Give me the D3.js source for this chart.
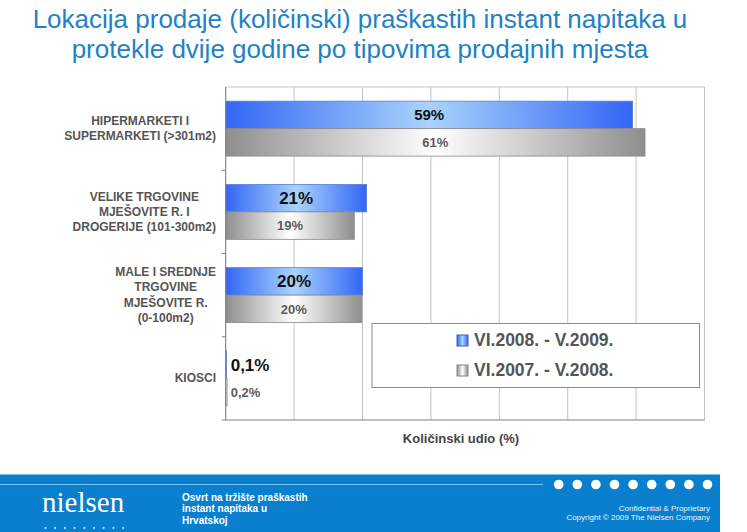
<!DOCTYPE html>
<html>
<head>
<meta charset="utf-8">
<script src="https://cdn.jsdelivr.net/npm/d3@7"></script>
<style>
  body { margin: 0; background: #fff; }
  svg { display: block; font-family: Arial, "Liberation Sans", sans-serif; }
</style>
</head>
<body>
<svg id="chart" width="747" height="532"></svg>
<script>
// ---- data ---------------------------------------------------------------
const titleLines = [
  "Lokacija prodaje (količinski) praškastih instant napitaka u",
  "protekle dvije godine po tipovima prodajnih mjesta"
];
const categories = ["hiper", "velike", "male", "kiosci"];
const categoryLines = [
  ["HIPERMARKETI I", "SUPERMARKETI (>301m2)"],
  ["VELIKE TRGOVINE", "MJEŠOVITE R. I", "DROGERIJE (101-300m2)"],
  ["MALE I SREDNJE", "TRGOVINE", "MJEŠOVITE R.", "(0-100m2)"],
  ["KIOSCI"]
];
const seriesNames = ["VI.2008. - V.2009.", "VI.2007. - V.2008."];
const current = [59.5, 20.6, 20.0, 0.1];     // VI.2008. - V.2009.
const previous = [61.3, 18.8, 19.9, 0.2];    // VI.2007. - V.2008.
const currentLabels = ["59%", "21%", "20%", "0,1%"];
const previousLabels = ["61%", "19%", "20%", "0,2%"];
const xTicks = [0, 10, 20, 30, 40, 50, 60, 70];
const axisTitle = "Količinski udio (%)";
const footerText = ["Osvrt na tržište praškastih", "instant napitaka u", "Hrvatskoj"];
const footerRight = ["Confidential & Proprietary", "Copyright © 2009 The Nielsen Company"];

// label sizes of the blue series (the first one is smaller in the original)
const currentLabelSize = [15, 17, 17, 17];

// ---- layout -------------------------------------------------------------
const svg = d3.select("#chart");
const plot = { left: 225.7, right: 704.5, top: 87, bottom: 420 };

const x = d3.scaleLinear().domain([0, 70]).range([plot.left, plot.right]);
const y = d3.scaleBand().domain(categories).range([plot.top, plot.bottom])
  .paddingInner(0.34).paddingOuter(0.17);
const ySub = d3.scaleBand().domain([0, 1]).range([0, y.bandwidth()]);

// gradients
const defs = svg.append("defs");
function gradient(id, edge, mid) {
  const g = defs.append("linearGradient").attr("id", id)
    .attr("x1", "0%").attr("x2", "100%").attr("y1", "0%").attr("y2", "0%");
  g.append("stop").attr("offset", "0%").attr("stop-color", edge);
  g.append("stop").attr("offset", "50%").attr("stop-color", mid);
  g.append("stop").attr("offset", "100%").attr("stop-color", edge);
}
gradient("gBlue", "#3366f5", "#a9d3fb");
gradient("gGray", "#8e8e8e", "#ffffff");

// ---- title --------------------------------------------------------------
svg.append("g").selectAll("text").data(titleLines).join("text")
  .attr("x", 360).attr("y", (d, i) => 27.5 + i * 30.5)
  .attr("text-anchor", "middle")
  .attr("font-size", 26).attr("fill", "#1f82c6")
  .text(d => d);

// ---- grid ---------------------------------------------------------------
const grid = svg.append("g");
grid.selectAll("line").data(xTicks).join("line")
  .attr("x1", d => x(d)).attr("x2", d => x(d))
  .attr("y1", plot.top).attr("y2", plot.bottom)
  .attr("stroke", "#c4c4c4").attr("stroke-width", 1);
grid.append("line")
  .attr("x1", plot.left).attr("x2", plot.right)
  .attr("y1", plot.top).attr("y2", plot.top)
  .attr("stroke", "#c4c4c4");

// ---- bars ---------------------------------------------------------------
const rows = categories.map((c, i) => ({
  cat: c,
  bars: [
    { s: 0, v: current[i], label: currentLabels[i], size: currentLabelSize[i] },
    { s: 1, v: previous[i], label: previousLabels[i], size: 13 }
  ]
}));

const groups = svg.append("g").selectAll("g").data(rows).join("g")
  .attr("transform", d => `translate(0,${y(d.cat)})`);

groups.selectAll("rect").data(d => d.bars).join("rect")
  .attr("x", x(0))
  .attr("y", d => ySub(d.s))
  .attr("width", d => x(d.v) - x(0))
  .attr("height", ySub.bandwidth())
  .attr("fill", d => d.s === 0 ? "url(#gBlue)" : "url(#gGray)")
  .attr("stroke", d => d.s === 0 ? "#5a7fd6" : "#8a8a8a")
  .attr("stroke-width", 0.8);

groups.selectAll("text").data(d => d.bars).join("text")
  .attr("x", d => (x(d.v) - x(0)) > 60 ? (x(0) + x(d.v)) / 2 : x(0) + 5)
  .attr("y", d => ySub(d.s) + ySub.bandwidth() / 2 + d.size * 0.36)
  .attr("text-anchor", d => (x(d.v) - x(0)) > 60 ? "middle" : "start")
  .attr("font-size", d => d.size)
  .attr("font-weight", "bold")
  .attr("fill", d => d.s === 0 ? "#111" : "#5c5c5c")
  .text(d => d.label);

// ---- axes ---------------------------------------------------------------
const axis = svg.append("g").attr("stroke", "#808080");
axis.append("line")
  .attr("x1", plot.left).attr("x2", plot.left)
  .attr("y1", plot.top).attr("y2", plot.bottom);
axis.append("line")
  .attr("x1", plot.left - 4).attr("x2", plot.right)
  .attr("y1", plot.bottom).attr("y2", plot.bottom);
const bounds = categories.map(c => y(c) - y.step() * y.paddingInner() / 2);
axis.selectAll(".tick").data(bounds.slice(1)).join("line")
  .attr("class", "tick")
  .attr("x1", plot.left - 4).attr("x2", plot.left)
  .attr("y1", d => d).attr("y2", d => d);

// category labels: centred block whose longest line ends at x=216
const catG = svg.append("g").selectAll("g").data(categories).join("g");
catG.each(function (c, i) {
  const g = d3.select(this);
  const lines = categoryLines[i];
  const mid = y(c) + y.bandwidth() / 2;
  const texts = g.selectAll("text").data(lines).join("text")
    .attr("y", (d, j) => mid - (lines.length - 1) * 15.3 / 2 + 4 + j * 15.3)
    .attr("font-size", 12).attr("font-weight", "bold")
    .attr("fill", "#555").attr("text-anchor", "middle")
    .text(d => d);
  const w = d3.max(texts.nodes(), n => n.getComputedTextLength());
  texts.attr("x", 216 - w / 2);
});

svg.append("text")
  .attr("x", 461).attr("y", 443)
  .attr("text-anchor", "middle")
  .attr("font-size", 13).attr("font-weight", "bold").attr("fill", "#454545")
  .text(axisTitle);

// ---- legend -------------------------------------------------------------
const legend = svg.append("g");
legend.append("rect")
  .attr("x", 372).attr("y", 323.5).attr("width", 327.5).attr("height", 64)
  .attr("fill", "#fff").attr("stroke", "#8a8a8a");
const item = legend.selectAll("g").data(seriesNames).join("g")
  .attr("transform", (d, i) => `translate(457,${335 + i * 30})`);
item.append("rect")
  .attr("width", 11).attr("height", 11)
  .attr("fill", (d, i) => i === 0 ? "url(#gBlue)" : "url(#gGray)")
  .attr("stroke", (d, i) => i === 0 ? "#3a5fc8" : "#8a8a8a");
item.append("text")
  .attr("x", 17).attr("y", 11.3)
  .attr("font-size", 17.5).attr("font-weight", "bold").attr("fill", "#555")
  .text(d => d);

// ---- footer -------------------------------------------------------------
const foot = svg.append("g");
foot.append("rect").attr("x", 0).attr("y", 474.5).attr("width", 720).attr("height", 58)
  .attr("fill", "#0a7fcd");
foot.append("line").attr("x1", 0).attr("x2", 543).attr("y1", 484.5).attr("y2", 484.5)
  .attr("stroke", "#7cc3f0").attr("stroke-width", 1);
foot.selectAll(".bigdot").data(d3.range(9)).join("circle")
  .attr("class", "bigdot")
  .attr("cx", d => 558.7 + d * 18.6).attr("cy", 484.5).attr("r", 4.8)
  .attr("fill", "#fff");
foot.append("text")
  .attr("x", 42).attr("y", 512)
  .attr("font-family", "'Liberation Serif', 'DejaVu Serif', serif")
  .attr("font-size", 29).attr("fill", "#fff")
  .text("nielsen");
foot.selectAll(".smalldot").data(d3.range(9)).join("circle")
  .attr("class", "smalldot")
  .attr("cx", d => 45.5 + d * 9.7).attr("cy", 528).attr("r", 1)
  .attr("fill", "#e6f2fb");
foot.selectAll(".ftxt").data(footerText).join("text")
  .attr("class", "ftxt")
  .attr("x", 182).attr("y", (d, i) => 500.5 + i * 11.6)
  .attr("font-size", 10).attr("font-weight", "bold").attr("fill", "#fff")
  .text(d => d);
foot.selectAll(".rtxt").data(footerRight).join("text")
  .attr("class", "rtxt")
  .attr("x", 710).attr("y", (d, i) => 510.5 + i * 9.5)
  .attr("text-anchor", "end")
  .attr("font-size", 8).attr("fill", "#eaf4fb")
  .text(d => d);
</script>
</body>
</html>
